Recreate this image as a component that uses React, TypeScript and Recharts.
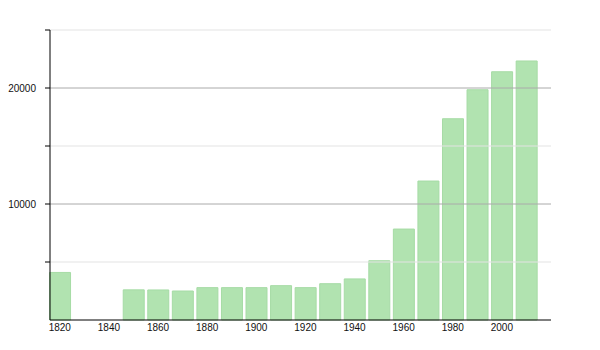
import { BarChart, Bar, XAxis, YAxis, ReferenceLine } from 'recharts';

// ─── Data ────────────────────────────────────────────────────────────────────

const years = [1820, 1850, 1860, 1870, 1880, 1890, 1900, 1910, 1920, 1930, 1940, 1950, 1960, 1970, 1980, 1990, 2000, 2010];
const population = [4100, 2600, 2590, 2500, 2790, 2790, 2790, 2960, 2790, 3130, 3540, 5110, 7840, 11980, 17350, 19850, 21400, 22330];

const xTicks = [1820, 1840, 1860, 1880, 1900, 1920, 1940, 1960, 1980, 2000];
const yTicks = [5000, 10000, 15000, 20000, 25000];
const majorGrid = [10000, 20000];
const minorGrid = [5000, 15000, 25000];

const rows = years.map((year, i) => ({ year, value: population[i] }));

const tickStyle = { fill: '#111', fontSize: 10, fontFamily: '"Liberation Sans", Arial, sans-serif' };

export default function App() {
  return (
    <div style={{ position: 'absolute', left: 0, top: 0, width: 600, height: 350, background: '#fff' }}>
      <BarChart width={600} height={350} data={rows} margin={{ top: 30, right: 49, bottom: 0, left: 0 }}>
        {minorGrid.map((v) => (
          <ReferenceLine key={v} y={v} stroke="#e3e3e3" strokeWidth={1} />
        ))}
        {majorGrid.map((v) => (
          <ReferenceLine key={v} y={v} stroke="#aaaaaa" strokeWidth={1} />
        ))}
        <XAxis
          dataKey="year"
          type="number"
          domain={[1816, 2020]}
          ticks={xTicks}
          interval={0}
          height={30}
          tickLine={false}
          tickSize={0}
          tickMargin={4}
          axisLine={{ stroke: '#000' }}
          tick={tickStyle}
        />
        <YAxis
          type="number"
          domain={[0, 25000]}
          ticks={yTicks}
          interval={0}
          width={50}
          tickSize={5}
          tickMargin={9}
          tickLine={{ stroke: '#000' }}
          axisLine={{ stroke: '#000' }}
          tick={tickStyle}
          tickFormatter={(v: number) => (majorGrid.includes(v) ? String(v) : '')}
        />
        <Bar dataKey="value" fill="#b1e3b0" stroke="#a6dba5" barSize={21} isAnimationActive={false} />
      </BarChart>
    </div>
  );
}
